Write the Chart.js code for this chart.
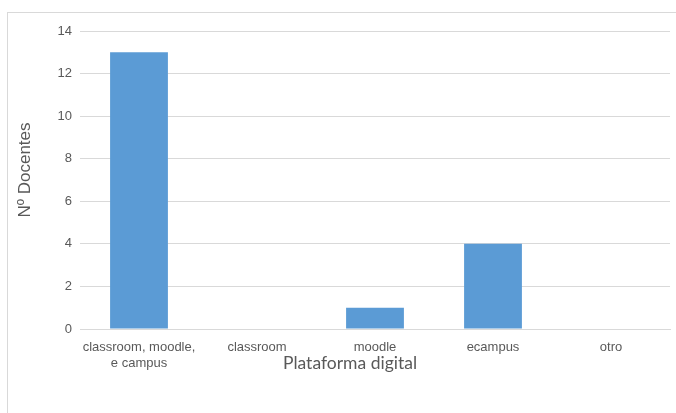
<!DOCTYPE html>
<html><head><meta charset="utf-8">
<script src="https://cdn.jsdelivr.net/npm/chart.js@4"></script>
<style>
html,body{margin:0;padding:0;background:#fff;}
#wrap{position:absolute;left:0;top:0;width:676px;height:413px;}
#frame{position:absolute;left:7px;top:12px;width:720px;height:450px;border-left:1px solid #d9d9d9;border-top:1px solid #d9d9d9;}
canvas{position:absolute;left:0;top:0;}
</style></head>
<body>
<div id="wrap"><div id="frame"></div><canvas id="c" width="676" height="413"></canvas></div>
<script>
const categories = [["classroom, moodle,", "e campus"], "classroom", "moodle", "ecampus", "otro"];
const docentes = [13, 0, 1, 4, 0];
const yTicks = [0, 2, 4, 6, 8, 10, 12, 14];
const xTitle = "Plataforma digital";
const yTitle = "Nº Docentes";

const tickFont = {family: "'Liberation Sans', Arial, sans-serif", size: 13};

const titlesPlugin = {
  id: 'titles',
  afterDraw(chart) {
    const ctx = chart.ctx;
    ctx.save();
    ctx.fillStyle = '#595959';
    ctx.textAlign = 'center';
    ctx.textBaseline = 'middle';
    ctx.font = "17.5px Lato, 'Open Sans', sans-serif";
    ctx.fillText(xTitle, 350, 363);
    ctx.translate(25, 170);
    ctx.rotate(-Math.PI / 2);
    ctx.font = "17px 'Liberation Sans', Arial, sans-serif";
    ctx.fillText(yTitle, 0, 0);
    ctx.restore();
  }
};

new Chart(document.getElementById('c'), {
  type: 'bar',
  data: {
    labels: categories,
    datasets: [{
      label: yTitle,
      data: docentes,
      backgroundColor: '#5B9BD5',
      borderWidth: 0,
      barPercentage: 0.49,
      categoryPercentage: 1
    }]
  },
  options: {
    responsive: false,
    animation: false,
    layout: {padding: {top: 31, right: 6, left: 0, bottom: 0}},
    plugins: {legend: {display: false}, tooltip: {enabled: false}},
    scales: {
      x: {
        grid: {display: false, drawTicks: false},
        border: {display: true, color: '#d9d9d9', width: 1},
        ticks: {color: '#595959', font: tickFont, padding: 11, maxRotation: 0, autoSkip: false},
        afterFit(scale) { scale.height = 413 - 329; }
      },
      y: {
        min: 0, max: 14,
        afterBuildTicks(scale) { scale.ticks = yTicks.map(v => ({value: v})); },
        grid: {color: '#d9d9d9', drawTicks: false},
        border: {display: false},
        ticks: {color: '#595959', font: tickFont, padding: 8},
        afterFit(scale) { scale.width = 80; }
      }
    }
  },
  plugins: [titlesPlugin]
});
</script>
</body></html>
